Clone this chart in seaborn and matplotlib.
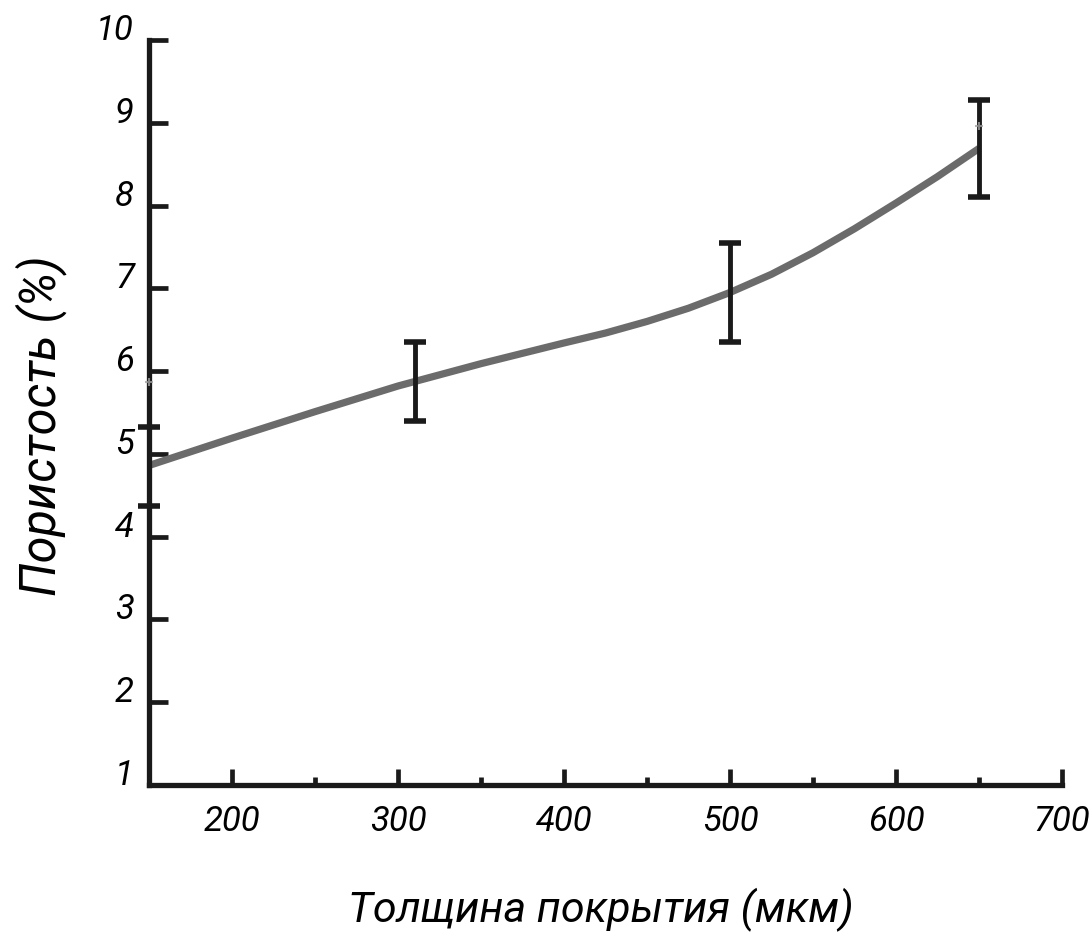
import matplotlib
matplotlib.use("Agg")
import matplotlib.pyplot as plt
import seaborn as sns
import pandas as pd

# Measured porosity vs. coating thickness
thickness = [150, 310, 500, 650]
porosity = [4.85, 5.88, 6.95, 8.69]
err_low = [0.48, 0.48, 0.60, 0.59]
err_high = [0.47, 0.47, 0.60, 0.59]

# Fitted trend curve
curve_x = [150, 200, 250, 300, 350, 400, 425, 450, 475, 500, 525, 550,
           575, 600, 625, 650]
curve_y = [4.86, 5.19, 5.51, 5.82, 6.09, 6.34, 6.46, 6.60, 6.76, 6.95,
           7.17, 7.43, 7.72, 8.03, 8.35, 8.69]

# Raw sample points (faint markers)
raw_x = [150, 650]
raw_y = [5.87, 8.96]

x_major = [200, 300, 400, 500, 600, 700]
x_minor = [250, 350, 450, 550, 650]
y_major = [1, 2, 3, 4, 5, 6, 7, 8, 9, 10]

sns.set_style("white")
plt.rcParams['font.family'] = ['Roboto', 'DejaVu Sans']
plt.rcParams['font.style'] = 'italic'
plt.rcParams['font.weight'] = 'normal'
plt.rcParams['text.color'] = 'black'
plt.rcParams['axes.labelcolor'] = 'black'
plt.rcParams['xtick.color'] = 'black'
plt.rcParams['ytick.color'] = 'black'

fig = plt.figure(figsize=(10.91, 9.33), dpi=100)
ax = fig.add_axes([149 / 1091, 1 - 785 / 933, (1062 - 149) / 1091, (785 - 40) / 933])

curve = pd.DataFrame({"x": curve_x, "y": curve_y})
sns.lineplot(data=curve, x="x", y="y", ax=ax, color="#6b6b6b", linewidth=5.2,
             solid_capstyle="butt", zorder=2)

ax.errorbar(thickness, porosity, yerr=[err_low, err_high], fmt="none",
            ecolor="#1a1a1a", elinewidth=3.5, capsize=8, capthick=4.0,
            zorder=3, clip_on=False)

ax.scatter(raw_x, raw_y, marker="+", s=40, color="#a0a0a0", linewidths=1.5,
           alpha=0.8, zorder=4, clip_on=False)

ax.set_xlim(150, 700)
ax.set_ylim(1, 10)

ax.set_xticks(x_major)
ax.set_xticks(x_minor, minor=True)
ax.set_yticks(y_major)
ax.set_xticklabels([str(v) for v in x_major])
ax.set_yticklabels([str(v) for v in y_major], va="baseline")

for side in ["top", "right"]:
    ax.spines[side].set_visible(False)
for side in ["left", "bottom"]:
    ax.spines[side].set_linewidth(3.8)
    ax.spines[side].set_color("#1a1a1a")
    ax.spines[side].set_capstyle("projecting")

ax.tick_params(axis="y", which="major", left=True, direction="in", length=14,
               width=3.4, color="#1a1a1a", labelsize=25, pad=11)
ax.tick_params(axis="x", which="major", bottom=True, direction="in", length=11.5,
               width=3.4, color="#1a1a1a", labelsize=25, pad=14)
ax.tick_params(axis="x", which="minor", bottom=True, direction="in", length=5.5,
               width=3.4, color="#1a1a1a")

ax.set_xlabel("Толщина покрытия (мкм)", fontsize=31)
ax.set_ylabel("Пористость (%)", fontsize=35)
ax.xaxis.set_label_coords(0.495, -0.184)
ax.xaxis.label.set_va("baseline")
ax.yaxis.set_label_coords(-0.09, 0.482)

ax.grid(False)
fig.savefig("out.png", dpi=100, facecolor="white")
